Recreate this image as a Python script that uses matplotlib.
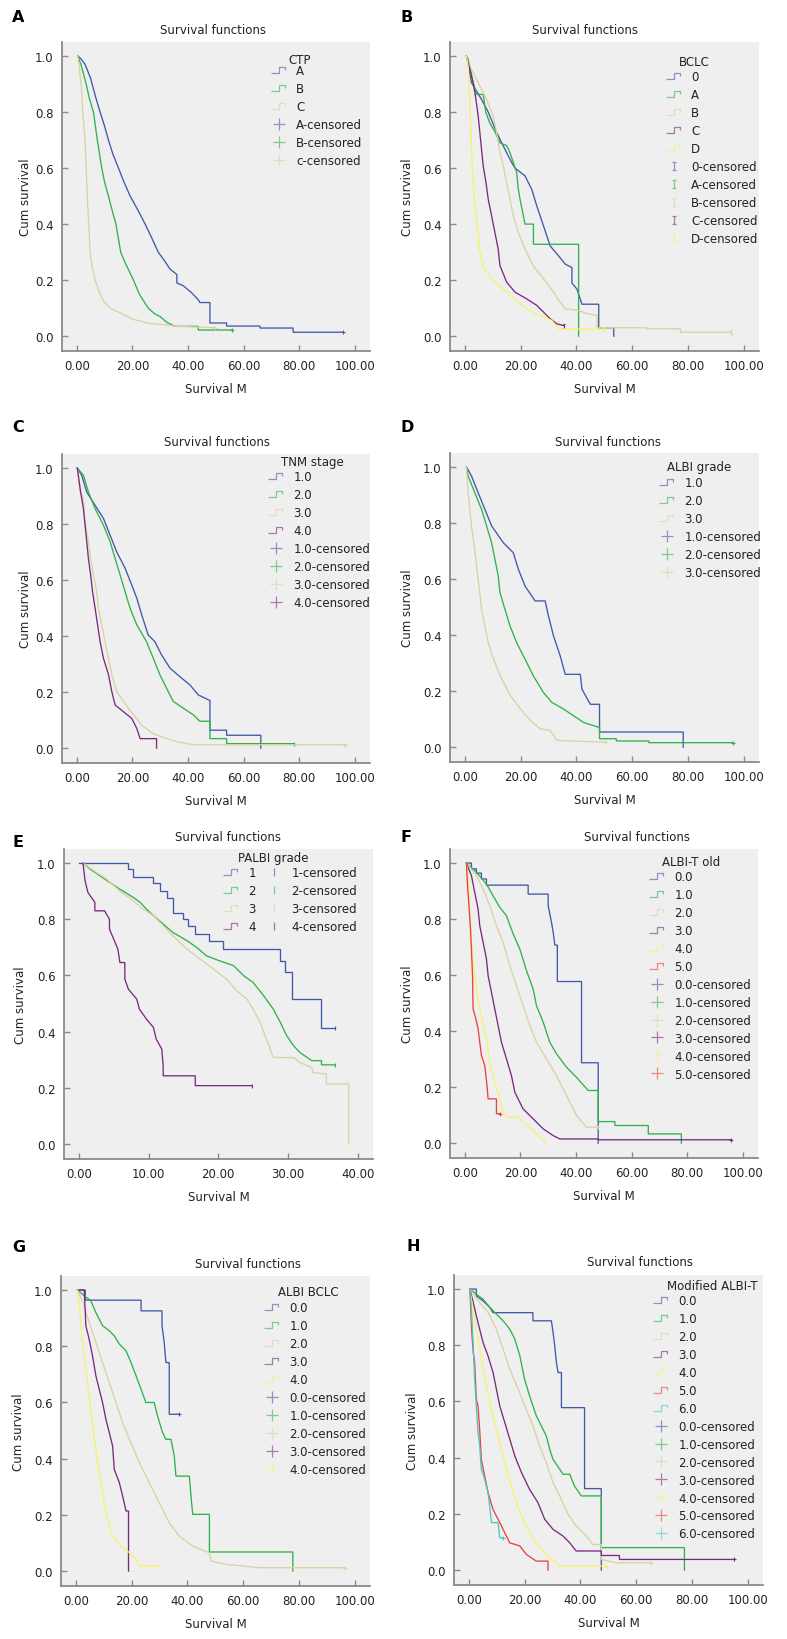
import numpy as np
import matplotlib
matplotlib.use("Agg")
import matplotlib.pyplot as plt
from matplotlib.lines import Line2D
from matplotlib.path import Path

plt.rcParams["font.family"] = ["DejaVu Sans"]
plt.rcParams["font.size"] = 8

# ---------------- A: CTP ----------------
ctp_a = [(0.4, 1.0), (1.5, 0.99), (3.0, 0.97), (5.0, 0.92), (6.6, 0.86), (8.4, 0.80), (10.0, 0.75), (11.4, 0.70),
         (13.0, 0.65), (15.0, 0.60), (17.0, 0.55), (19.2, 0.50), (22.0, 0.45), (24.6, 0.40), (27.0, 0.35), (29.3, 0.30),
         (31.5, 0.27), (33.5, 0.24), (36.0, 0.22), (36.0, 0.19), (38.3, 0.18), (41.3, 0.155), (43.7, 0.13), (44.3, 0.12),
         (47.9, 0.12), (47.9, 0.047), (53.9, 0.047), (53.9, 0.036), (65.9, 0.036), (65.9, 0.029), (77.8, 0.029),
         (77.8, 0.014), (95.8, 0.014)]
ctp_b = [(0.4, 1.0), (1.5, 0.97), (3.4, 0.90), (4.5, 0.85), (6.0, 0.80), (7.4, 0.70), (9.0, 0.60), (10.0, 0.55),
         (11.4, 0.50), (12.7, 0.45), (14.1, 0.40), (15.8, 0.30), (17.5, 0.26), (20.4, 0.20), (22.5, 0.15), (25.7, 0.10),
         (28.0, 0.08), (30.0, 0.07), (32.3, 0.05), (35.3, 0.035), (43.7, 0.035), (43.7, 0.022), (55.7, 0.022)]
ctp_c = [(0.4, 1.0), (1.6, 0.90), (2.2, 0.80), (3.0, 0.70), (3.4, 0.60), (3.8, 0.50), (4.3, 0.40), (4.8, 0.30),
         (5.5, 0.25), (6.6, 0.20), (8.4, 0.15), (10.0, 0.12), (12.0, 0.10), (16.2, 0.08), (20.4, 0.06), (26.3, 0.045),
         (32.3, 0.04), (36.0, 0.035), (49.7, 0.03)]
ctp_labels = ["A", "B", "C", "A-censored", "B-censored", "c-censored"]

# ---------------- B: BCLC ----------------
bclc_0 = [(0.6, 1.0), (2.4, 0.905), (6.0, 0.845), (8.4, 0.80), (11.4, 0.727), (14.4, 0.667), (16.8, 0.62), (18.0, 0.60),
          (21.6, 0.572), (24.0, 0.524), (25.8, 0.465), (28.2, 0.394), (30.6, 0.322), (33.6, 0.287), (36.0, 0.257),
          (38.4, 0.245), (38.4, 0.19), (40.2, 0.168), (42.0, 0.114), (48.0, 0.114), (48.0, 0.03), (53.4, 0.03),
          (53.4, 0.0)]
bclc_a = [(0.6, 1.0), (1.2, 0.99), (3.0, 0.905), (4.2, 0.863), (6.6, 0.863), (7.5, 0.80), (9.0, 0.76), (10.8, 0.73),
          (12.6, 0.69), (15.0, 0.68), (16.2, 0.655), (17.4, 0.62), (18.6, 0.584), (19.2, 0.524), (19.8, 0.489),
          (21.6, 0.40), (24.6, 0.40), (24.6, 0.328), (40.8, 0.328), (40.8, 0.0)]
bclc_b = [(0.6, 1.0), (1.8, 0.964), (4.8, 0.905), (7.8, 0.845), (10.2, 0.786), (11.4, 0.727), (12.4, 0.667),
          (13.8, 0.608), (15.0, 0.548), (16.2, 0.489), (17.4, 0.43), (19.2, 0.37), (21.6, 0.31), (24.6, 0.25),
          (29.4, 0.19), (31.8, 0.157), (34.2, 0.121), (36.0, 0.098), (40.8, 0.092), (43.8, 0.08), (47.4, 0.074),
          (47.4, 0.03), (65.3, 0.03), (65.3, 0.026), (77.3, 0.026), (77.3, 0.014), (95.3, 0.014)]
bclc_c = [(0.6, 1.0), (3.0, 0.905), (4.0, 0.845), (4.8, 0.786), (5.4, 0.727), (6.0, 0.667), (6.6, 0.608), (7.6, 0.548),
          (8.4, 0.489), (9.6, 0.43), (10.8, 0.37), (12.0, 0.31), (12.6, 0.252), (15.0, 0.193), (18.0, 0.157),
          (22.2, 0.133), (25.8, 0.11), (28.2, 0.086), (30.6, 0.062), (33.0, 0.044), (35.4, 0.038)]
bclc_d = [(0.6, 1.0), (1.2, 0.964), (1.6, 0.905), (2.0, 0.786), (2.4, 0.667), (3.0, 0.548), (4.0, 0.43), (4.8, 0.37),
          (5.2, 0.31), (6.6, 0.25), (9.6, 0.203), (13.8, 0.168), (18.0, 0.132), (22.2, 0.096), (27.0, 0.074),
          (31.2, 0.056), (33.6, 0.026), (49.8, 0.024)]
bclc_labels = ["0", "A", "B", "C", "D", "0-censored", "A-censored", "B-censored", "C-censored", "D-censored"]

# ---------------- C: TNM stage ----------------
tnm_1 = [(0.2, 1.0), (1.8, 0.974), (3.6, 0.914), (6.6, 0.867), (9.6, 0.82), (12.0, 0.76), (14.4, 0.70), (17.4, 0.642),
         (19.8, 0.582), (21.6, 0.535), (23.4, 0.475), (25.7, 0.404), (28.1, 0.38), (30.5, 0.333), (33.5, 0.286),
         (37.7, 0.25), (40.7, 0.226), (43.7, 0.19), (47.9, 0.17), (47.9, 0.064), (53.9, 0.064), (53.9, 0.046),
         (66.2, 0.046), (66.2, 0.0)]
tnm_2 = [(0.2, 1.0), (2.4, 0.974), (4.2, 0.914), (6.6, 0.855), (9.6, 0.796), (12.0, 0.737), (13.8, 0.677),
         (15.6, 0.618), (17.4, 0.558), (19.2, 0.499), (21.6, 0.44), (25.1, 0.38), (27.5, 0.321), (29.9, 0.262),
         (32.9, 0.202), (34.7, 0.167), (38.3, 0.143), (41.9, 0.119), (44.3, 0.096), (47.9, 0.096), (47.9, 0.034),
         (53.9, 0.034), (53.9, 0.016), (78.2, 0.016)]
tnm_3 = [(0.2, 1.0), (1.2, 0.914), (2.2, 0.90), (3.0, 0.808), (4.2, 0.737), (5.0, 0.677), (6.0, 0.618), (7.2, 0.558),
         (7.8, 0.499), (9.0, 0.44), (10.2, 0.38), (11.4, 0.321), (12.6, 0.262), (14.4, 0.202), (18.6, 0.142),
         (23.4, 0.082), (27.5, 0.052), (32.3, 0.034), (36.5, 0.022), (41.9, 0.012), (96.4, 0.012)]
tnm_4 = [(0.2, 1.0), (1.4, 0.914), (2.4, 0.855), (3.0, 0.796), (3.6, 0.737), (4.2, 0.677), (5.0, 0.618), (5.7, 0.558),
         (6.6, 0.499), (7.5, 0.44), (8.4, 0.38), (9.6, 0.321), (11.4, 0.263), (12.6, 0.202), (13.8, 0.154),
         (16.8, 0.13), (19.8, 0.106), (21.6, 0.07), (22.8, 0.034), (28.7, 0.034), (28.7, 0.0)]
tnm_labels = ["1.0", "2.0", "3.0", "4.0", "1.0-censored", "2.0-censored", "3.0-censored", "4.0-censored"]

# ---------------- D: ALBI grade ----------------
albi_1 = [(0.6, 1.0), (2.4, 0.968), (4.8, 0.908), (7.2, 0.849), (9.6, 0.79), (13.8, 0.73), (17.4, 0.694),
          (19.2, 0.635), (21.6, 0.575), (25.2, 0.522), (28.8, 0.522), (30.0, 0.468), (31.8, 0.397), (34.2, 0.326),
          (36.0, 0.26), (41.4, 0.26), (42.0, 0.207), (45.0, 0.153), (48.3, 0.153), (48.3, 0.054), (78.3, 0.054),
          (78.3, 0.0)]
albi_2 = [(0.6, 1.0), (1.2, 0.968), (3.6, 0.908), (6.0, 0.849), (7.8, 0.79), (9.6, 0.73), (10.8, 0.671), (12.0, 0.611),
          (12.6, 0.552), (14.4, 0.492), (16.2, 0.433), (18.6, 0.373), (21.6, 0.314), (24.6, 0.254), (28.2, 0.195),
          (31.2, 0.16), (35.4, 0.136), (39.0, 0.112), (42.6, 0.088), (48.3, 0.07), (48.3, 0.03), (54.3, 0.03),
          (54.3, 0.022), (66.0, 0.022), (66.0, 0.016), (96.3, 0.016)]
albi_3 = [(0.6, 1.0), (1.2, 0.908), (1.8, 0.849), (2.4, 0.79), (3.2, 0.73), (4.0, 0.671), (4.6, 0.611), (5.4, 0.552),
          (6.0, 0.492), (7.2, 0.433), (8.4, 0.373), (10.2, 0.317), (12.6, 0.257), (16.2, 0.186), (19.8, 0.138),
          (23.4, 0.096), (27.0, 0.066), (30.6, 0.06), (33.0, 0.024), (50.4, 0.018)]
albi_labels = ["1.0", "2.0", "3.0", "1.0-censored", "2.0-censored", "3.0-censored"]

# ---------------- E: PALBI grade ----------------
palbi_1 = [(0.0, 1.0), (7.0, 1.0), (7.0, 0.979), (7.8, 0.979), (7.8, 0.951), (10.7, 0.951), (10.7, 0.929),
           (11.6, 0.929), (11.6, 0.90), (12.6, 0.90), (12.6, 0.874), (13.5, 0.874), (13.5, 0.824), (15.0, 0.824),
           (15.0, 0.80), (15.7, 0.80), (15.7, 0.775), (16.7, 0.775), (16.7, 0.747), (18.6, 0.747), (18.6, 0.721),
           (20.7, 0.721), (20.7, 0.694), (28.9, 0.694), (28.9, 0.652), (29.6, 0.652), (29.6, 0.611), (30.5, 0.611),
           (30.5, 0.516), (34.7, 0.516), (34.7, 0.413), (36.7, 0.413)]
palbi_2 = [(0.6, 1.0), (1.6, 0.979), (3.0, 0.955), (4.5, 0.93), (5.9, 0.907), (7.8, 0.878), (8.8, 0.86), (9.7, 0.836),
           (10.7, 0.813), (12.1, 0.783), (13.5, 0.753), (15.5, 0.724), (16.9, 0.70), (18.3, 0.67), (20.2, 0.652),
           (22.2, 0.635), (23.6, 0.60), (25.0, 0.575), (26.5, 0.528), (27.9, 0.48), (28.9, 0.433), (29.8, 0.386),
           (30.8, 0.35), (31.7, 0.326), (33.4, 0.297), (34.8, 0.297), (34.8, 0.282), (36.7, 0.282)]
palbi_3 = [(0.6, 1.0), (2.5, 0.967), (4.0, 0.943), (5.9, 0.90), (7.8, 0.866), (9.2, 0.836), (10.7, 0.813),
           (12.1, 0.777), (13.5, 0.741), (15.5, 0.694), (17.4, 0.658), (19.3, 0.623), (21.2, 0.587), (22.6, 0.546),
           (24.1, 0.516), (25.0, 0.48), (26.0, 0.433), (26.9, 0.374), (27.9, 0.308), (30.8, 0.308), (31.7, 0.29),
           (33.4, 0.273), (33.6, 0.255), (35.5, 0.249), (35.5, 0.214), (38.7, 0.214), (38.7, 0.0)]
palbi_4 = [(0.6, 1.0), (0.9, 0.937), (1.3, 0.896), (2.3, 0.86), (2.3, 0.83), (3.7, 0.83), (4.4, 0.80), (4.4, 0.765),
           (5.6, 0.694), (5.9, 0.646), (6.6, 0.646), (6.6, 0.587), (7.1, 0.552), (8.3, 0.516), (8.7, 0.48),
           (9.7, 0.445), (10.7, 0.415), (11.1, 0.374), (11.9, 0.338), (12.1, 0.279), (12.1, 0.243), (16.7, 0.243),
           (16.7, 0.208), (24.8, 0.208)]
palbi_labels = ["1", "2", "3", "4", "1-censored", "2-censored", "3-censored", "4-censored"]

# ---------------- F: ALBI-T old ----------------
alt_0 = [(0.6, 1.0), (2.4, 1.0), (2.4, 0.979), (4.2, 0.979), (4.2, 0.964), (6.0, 0.964), (6.0, 0.943), (7.8, 0.943),
         (7.8, 0.921), (22.8, 0.921), (22.8, 0.889), (30.0, 0.889), (30.0, 0.848), (31.2, 0.788), (31.8, 0.753),
         (32.4, 0.707), (33.3, 0.707), (33.3, 0.577), (42.0, 0.577), (42.0, 0.287), (48.0, 0.287), (48.0, 0.0)]
alt_1 = [(0.6, 1.0), (4.2, 0.967), (7.8, 0.925), (10.2, 0.883), (12.6, 0.842), (15.0, 0.812), (17.4, 0.747),
         (19.8, 0.693), (22.2, 0.616), (24.6, 0.55), (25.8, 0.491), (28.2, 0.432), (30.6, 0.36), (33.0, 0.319),
         (36.6, 0.271), (40.2, 0.235), (44.4, 0.188), (48.0, 0.188), (48.0, 0.077), (54.0, 0.077), (54.0, 0.063),
         (66.0, 0.063), (66.0, 0.033), (77.9, 0.033), (77.9, 0.0)]
alt_2 = [(0.6, 1.0), (4.2, 0.955), (6.6, 0.907), (9.0, 0.848), (11.4, 0.776), (13.8, 0.717), (16.2, 0.634),
         (18.6, 0.562), (21.0, 0.491), (23.4, 0.42), (25.8, 0.36), (29.4, 0.301), (33.0, 0.241), (36.6, 0.17),
         (40.2, 0.099), (43.8, 0.057), (48.0, 0.057)]
alt_3 = [(0.6, 1.0), (2.4, 0.955), (3.6, 0.895), (4.8, 0.836), (5.4, 0.776), (6.6, 0.717), (7.8, 0.658), (8.4, 0.598),
         (9.6, 0.539), (10.8, 0.479), (12.0, 0.42), (13.2, 0.36), (15.0, 0.301), (16.8, 0.241), (18.0, 0.182),
         (21.0, 0.122), (24.6, 0.087), (28.2, 0.051), (31.8, 0.027), (34.2, 0.015), (48.0, 0.015), (48.0, 0.012),
         (95.9, 0.012)]
alt_4 = [(0.6, 1.0), (1.2, 0.955), (1.8, 0.836), (2.4, 0.717), (3.0, 0.658), (3.6, 0.598), (4.4, 0.539), (5.4, 0.479),
         (6.6, 0.42), (8.0, 0.36), (9.0, 0.289), (10.8, 0.218), (12.6, 0.158), (13.8, 0.111), (15.0, 0.093),
         (19.2, 0.093), (21.6, 0.069), (24.6, 0.045), (27.0, 0.021), (28.8, 0.01), (28.8, 0.0)]
alt_5 = [(0.6, 1.0), (1.0, 0.919), (1.6, 0.836), (2.0, 0.776), (2.4, 0.693), (2.8, 0.598), (3.0, 0.479), (4.0, 0.444),
         (4.8, 0.408), (5.4, 0.36), (6.0, 0.313), (7.2, 0.277), (8.0, 0.206), (8.4, 0.158), (11.4, 0.158),
         (11.4, 0.105), (12.6, 0.105)]
alt_labels = ["0.0", "1.0", "2.0", "3.0", "4.0", "5.0",
              "0.0-censored", "1.0-censored", "2.0-censored", "3.0-censored", "4.0-censored", "5.0-censored"]

# ---------------- G: ALBI BCLC ----------------
ab_0 = [(0.6, 1.0), (3.4, 1.0), (3.4, 0.964), (23.4, 0.964), (23.4, 0.926), (30.9, 0.926), (30.9, 0.873),
        (31.7, 0.814), (32.3, 0.742), (33.5, 0.742), (33.5, 0.558), (36.9, 0.558)]
ab_1 = [(0.6, 1.0), (3.0, 0.98), (5.4, 0.962), (7.2, 0.92), (9.6, 0.873), (12.0, 0.855), (13.8, 0.837), (15.6, 0.808),
        (18.0, 0.784), (19.8, 0.742), (21.6, 0.695), (23.4, 0.647), (25.1, 0.60), (28.1, 0.60), (29.3, 0.552),
        (31.1, 0.493), (32.3, 0.469), (34.1, 0.469), (35.3, 0.41), (35.9, 0.338), (40.7, 0.338), (41.3, 0.267),
        (41.9, 0.202), (47.9, 0.202), (47.9, 0.068), (77.8, 0.068), (77.8, 0.0)]
ab_2 = [(0.6, 1.0), (3.0, 0.944), (4.8, 0.885), (7.2, 0.814), (9.6, 0.742), (12.0, 0.671), (14.4, 0.60), (16.8, 0.528),
        (19.2, 0.469), (22.8, 0.386), (26.3, 0.315), (29.9, 0.243), (33.5, 0.172), (37.1, 0.125), (41.9, 0.089),
        (47.9, 0.065), (48.5, 0.036), (53.9, 0.024), (65.9, 0.012), (96.4, 0.012)]
ab_3 = [(0.6, 1.0), (3.0, 1.0), (3.4, 0.92), (3.6, 0.873), (4.8, 0.825), (6.0, 0.766), (7.2, 0.695), (8.4, 0.647),
        (9.6, 0.60), (10.8, 0.54), (12.0, 0.493), (13.2, 0.445), (13.8, 0.362), (15.6, 0.315), (16.8, 0.267),
        (18.0, 0.214), (18.9, 0.214), (18.9, 0.0)]
ab_4 = [(0.6, 1.0), (1.2, 0.956), (1.8, 0.885), (2.4, 0.814), (3.4, 0.742), (4.2, 0.671), (5.0, 0.60), (6.0, 0.528),
        (6.9, 0.457), (7.8, 0.386), (9.0, 0.315), (10.2, 0.243), (11.4, 0.184), (13.2, 0.125), (15.6, 0.095),
        (18.6, 0.071), (21.6, 0.042), (22.8, 0.018), (29.3, 0.018)]
ab_labels = ["0.0", "1.0", "2.0", "3.0", "4.0",
             "0.0-censored", "1.0-censored", "2.0-censored", "3.0-censored", "4.0-censored"]

# ---------------- H: Modified ALBI-T ----------------
mab_0 = [(0.4, 1.0), (2.7, 1.0), (2.7, 0.976), (5.1, 0.958), (7.5, 0.935), (8.7, 0.916), (23.0, 0.916), (23.0, 0.887),
         (29.6, 0.887), (30.2, 0.846), (30.8, 0.798), (31.4, 0.739), (32.0, 0.703), (33.2, 0.703), (33.2, 0.578),
         (41.5, 0.578), (41.5, 0.29), (47.5, 0.29), (47.5, 0.0)]
mab_1 = [(0.4, 1.0), (2.7, 0.982), (5.1, 0.964), (7.5, 0.935), (9.9, 0.911), (12.3, 0.887), (14.7, 0.857),
         (16.5, 0.822), (18.3, 0.762), (20.0, 0.679), (21.8, 0.62), (23.0, 0.584), (24.2, 0.549), (25.4, 0.525),
         (27.8, 0.477), (29.0, 0.43), (30.2, 0.394), (33.8, 0.341), (36.2, 0.341), (37.9, 0.299), (40.3, 0.264),
         (47.5, 0.264), (47.5, 0.08), (77.3, 0.08), (77.3, 0.0)]
mab_2 = [(0.4, 1.0), (3.9, 0.952), (6.9, 0.917), (9.9, 0.857), (12.3, 0.786), (14.7, 0.715), (17.7, 0.644),
         (20.6, 0.572), (23.0, 0.513), (25.4, 0.442), (27.8, 0.382), (30.2, 0.311), (32.6, 0.264), (35.6, 0.198),
         (38.5, 0.157), (42.1, 0.121), (44.5, 0.091), (47.5, 0.091), (47.5, 0.038), (52.9, 0.026), (65.4, 0.026)]
mab_3 = [(0.4, 1.0), (1.6, 0.952), (2.7, 0.905), (3.9, 0.857), (5.1, 0.81), (6.9, 0.762), (8.7, 0.703), (9.9, 0.644),
         (11.1, 0.584), (12.9, 0.525), (14.7, 0.466), (16.5, 0.406), (18.9, 0.347), (21.8, 0.287), (24.8, 0.24),
         (27.2, 0.181), (30.2, 0.145), (33.8, 0.121), (36.2, 0.097), (38.5, 0.068), (47.5, 0.068), (47.5, 0.052),
         (54.0, 0.052), (54.0, 0.038), (95.2, 0.038)]
mab_4 = [(0.4, 1.0), (1.6, 0.917), (2.7, 0.857), (3.9, 0.798), (5.1, 0.715), (6.6, 0.644), (8.1, 0.572), (9.9, 0.501),
         (11.7, 0.43), (13.5, 0.359), (15.9, 0.276), (18.3, 0.204), (21.2, 0.145), (24.2, 0.097), (27.8, 0.056),
         (31.4, 0.026), (32.6, 0.014), (49.3, 0.014)]
mab_5 = [(0.4, 1.0), (1.0, 0.857), (1.6, 0.774), (2.1, 0.739), (2.7, 0.608), (3.3, 0.584), (3.9, 0.501), (4.5, 0.394),
         (5.7, 0.335), (6.9, 0.276), (8.7, 0.216), (10.5, 0.181), (12.3, 0.145), (14.7, 0.097), (18.3, 0.086),
         (20.6, 0.056), (24.2, 0.032), (28.4, 0.032), (28.4, 0.0)]
mab_6 = [(0.4, 1.0), (1.0, 0.917), (1.6, 0.798), (2.1, 0.679), (2.7, 0.584), (3.3, 0.489), (3.9, 0.442), (4.5, 0.359),
         (5.7, 0.323), (6.9, 0.276), (7.5, 0.228), (8.1, 0.169), (10.5, 0.169), (11.1, 0.115), (12.3, 0.115)]
mab_labels = ["0.0", "1.0", "2.0", "3.0", "4.0", "5.0", "6.0",
              "0.0-censored", "1.0-censored", "2.0-censored", "3.0-censored", "4.0-censored", "5.0-censored",
              "6.0-censored"]

palette = ["#4358a8", "#2fb34a", "#d7d3a2", "#7b2a80", "#f6f36c", "#e8433f", "#52c4c6"]

W, H = 787, 1640
fig = plt.figure(figsize=(W / 100, H / 100), dpi=100)
fig.patch.set_facecolor("white")

step_mark = Path([(-1, -0.35), (0, -0.35), (0, 0.35), (0.8, 0.35), (0.8, 0.05)],
                 [Path.MOVETO, Path.LINETO, Path.LINETO, Path.LINETO, Path.LINETO])
i_mark = Path([(-0.45, -1), (0.45, -1), (0, -1), (0, 1), (-0.45, 1), (0.45, 1)],
              [Path.MOVETO, Path.LINETO, Path.MOVETO, Path.LINETO, Path.MOVETO, Path.LINETO])


def panel(box, curves, labels, leg_title, letter, letter_xy, title_xy, leg_xy, leg_title_xy, ylab_x,
          xmax=100, cens="+", cens_size=9, ncol=1):
    l, t, r, b = box
    w, h = r - l, b - t
    ax = fig.add_axes([l / W, 1 - b / H, w / W, h / H])
    ax.set_facecolor("#efefef")
    n = len(curves)
    cols = palette[:n]
    for pts, c in zip(curves, cols):
        arr = np.array(pts)
        ax.plot(arr[:, 0], arr[:, 1], color=c, lw=0.95, solid_joinstyle="miter", zorder=3)
        if arr[-1, 1] > 0.004:
            ax.plot(arr[-1, 0], arr[-1, 1], ls="none", marker=cens, color=c, ms=3.5, mew=0.8, zorder=3)

    pad = xmax * 0.053
    ax.set_xlim(-pad, xmax + pad * 1.03)
    ax.set_ylim(-0.053, 1.05)
    ax.set_xticks(np.linspace(0, xmax, 6 if xmax == 100 else 5))
    ax.set_xticklabels(["%.2f" % v for v in ax.get_xticks()])
    ax.set_yticks([0, 0.2, 0.4, 0.6, 0.8, 1.0])
    ax.set_yticklabels(["0.0", "0.2", "0.4", "0.6", "0.8", "1.0"])
    for s in ["top", "right"]:
        ax.spines[s].set_visible(False)
    for s in ["left", "bottom"]:
        ax.spines[s].set_color("#8a8a8a")
        ax.spines[s].set_linewidth(1.3)
    ax.tick_params(direction="in", length=4, width=1, color="#8a8a8a", labelsize=8.5,
                   labelcolor="#222222", pad=6)
    ax.set_xlabel("Survival M", fontsize=8.5, color="#222222")
    ax.set_ylabel("Cum survival", fontsize=8.5, color="#222222")
    ax.xaxis.set_label_coords(0.5, -31 / h)
    ax.yaxis.set_label_coords((ylab_x + 7 - l) / w, 0.5)

    handles = [Line2D([], [], color=c, marker=step_mark, ls="none", ms=11, mew=0.9, mfc="none", alpha=0.6)
               for c in cols]
    handles += [Line2D([], [], color=c, marker=cens, ls="none", ms=cens_size, mew=0.9, mfc="none", alpha=0.6)
                for c in cols]
    lx, ly = leg_xy
    ax.legend(handles, labels, loc="upper left", bbox_to_anchor=((lx - l) / w, 1 - (ly - 7 - t) / h),
              frameon=False, borderpad=0, borderaxespad=0, handlelength=1.8, handletextpad=0.6,
              labelspacing=0.42, fontsize=8.5, ncol=ncol, columnspacing=0.6, labelcolor="#222222")
    fig.text(leg_title_xy[0] / W, 1 - leg_title_xy[1] / H, leg_title, fontsize=8.5, color="#222222",
             ha="left", va="center")
    fig.text(title_xy[0] / W, 1 - title_xy[1] / H, "Survival functions", fontsize=8.5, color="#222222",
             ha="center", va="center")
    fig.text(letter_xy[0] / W, 1 - letter_xy[1] / H, letter, fontsize=11.5, fontweight="bold",
             ha="left", va="center")
    return ax


panel((62, 43, 370, 352), [ctp_a, ctp_b, ctp_c], ctp_labels, "CTP", "A", (12, 18), (213, 31),
      (268, 72), (288, 60), 25)
panel((450, 43, 759, 352), [bclc_0, bclc_a, bclc_b, bclc_c, bclc_d], bclc_labels, "BCLC", "B", (401, 18),
      (585, 31), (663, 78), (679, 63), 407, cens=i_mark, cens_size=6)
panel((62, 455, 370, 764), [tnm_1, tnm_2, tnm_3, tnm_4], tnm_labels, "TNM stage", "C", (12, 428), (217, 443),
      (265, 478), (281, 463), 25)
panel((450, 454, 759, 763), [albi_1, albi_2, albi_3], albi_labels, "ALBI grade", "D", (401, 428), (608, 442),
      (656, 484), (667, 468), 407)
panel((64, 850, 373, 1160), [palbi_1, palbi_2, palbi_3, palbi_4], palbi_labels, "PALBI grade", "E", (13, 843),
      (228, 838), (220, 874), (238, 859), 20, xmax=40, cens="|", cens_size=6, ncol=2)
panel((450, 850, 758, 1159), [alt_0, alt_1, alt_2, alt_3, alt_4, alt_5], alt_labels, "ALBI-T old", "F",
      (401, 838), (637, 838), (646, 878), (662, 863), 407)
panel((61, 1277, 370, 1587), [ab_0, ab_1, ab_2, ab_3, ab_4], ab_labels, "ALBI BCLC", "G", (12, 1248),
      (248, 1265), (261, 1309), (278, 1293), 18)
panel((454, 1276, 763, 1586), [mab_0, mab_1, mab_2, mab_3, mab_4, mab_5, mab_6], mab_labels, "Modified ALBI-T",
      "H", (406, 1247), (640, 1263), (650, 1302), (667, 1287), 412)

fig.savefig("out.png", dpi=100, facecolor="white")
